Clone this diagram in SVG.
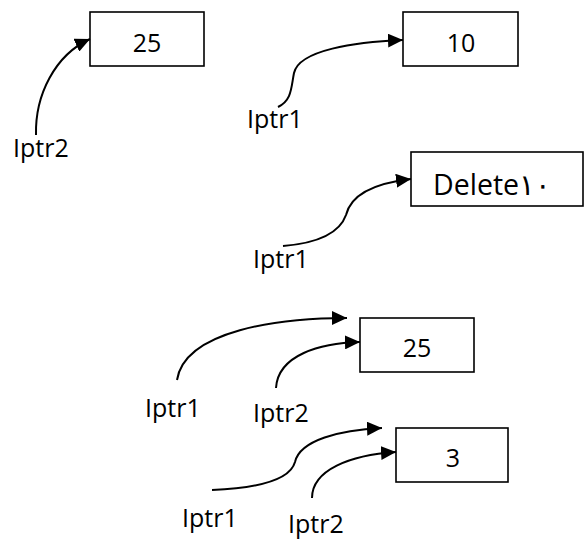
<svg xmlns="http://www.w3.org/2000/svg" width="588" height="541" viewBox="0 0 588 541">
<defs>
<style>
.box{fill:#fff;stroke:#000;stroke-width:1.6}
.t{font-family:"Open Sans","Liberation Sans",sans-serif;font-size:25px;fill:#000}
.v{font-family:"Open Sans","Liberation Sans",sans-serif;font-size:25px;fill:#000;text-anchor:middle}
.c{fill:none;stroke:#000;stroke-width:2;marker-end:url(#ah)}
</style>
<marker id="ah" markerUnits="userSpaceOnUse" markerWidth="16" markerHeight="14" refX="15" refY="7" orient="auto">
<path d="M0,0 L15,7 L0,14 Z" fill="#000"/>
</marker>
</defs>
<rect width="588" height="541" fill="#fff"/>
<g id="node-25a"><rect class="box" x="90" y="12" width="114" height="54"/><text class="v" x="147" y="52">25</text></g>
<g id="node-10"><rect class="box" x="403" y="12" width="115" height="54"/><text class="v" x="461" y="52">10</text></g>
<g id="node-delete"><rect class="box" x="411" y="152" width="172" height="54"/><text class="t" x="433" y="195" style="font-size:28.5px">Delete١٠</text></g>
<g id="node-25b"><rect class="box" x="360" y="318" width="114" height="54"/><text class="v" x="417" y="357">25</text></g>
<g id="node-3"><rect class="box" x="396" y="428" width="112" height="54"/><text class="v" x="453" y="467">3</text></g>
<g id="labels">
<text class="t" x="13" y="157">Iptr2</text>
<text class="t" x="247" y="128">Iptr1</text>
<text class="t" x="253" y="268">Iptr1</text>
<text class="t" x="145" y="417">Iptr1</text>
<text class="t" x="253" y="422">Iptr2</text>
<text class="t" x="182" y="527">Iptr1</text>
<text class="t" x="288" y="533">Iptr2</text>
</g>
<g id="connectors">
<path class="c" d="M36,135 C35,95 55,55 90,39"/>
<path class="c" d="M278,107 C292,100 291,88 294,73 C299,50 355,42 403,40"/>
<path class="c" d="M283,246 C320,243 340,232 346,215 C352,190 385,182 411,179"/>
<path class="c" d="M177,380 C185,330 280,318 347,318"/>
<path class="c" d="M276,388 C278,355 320,343 360,342"/>
<path class="c" d="M212,490 C260,488 290,480 295,462 C300,440 340,430 382,428"/>
<path class="c" d="M312,498 C312,470 350,455 396,452"/>
</g>
</svg>
